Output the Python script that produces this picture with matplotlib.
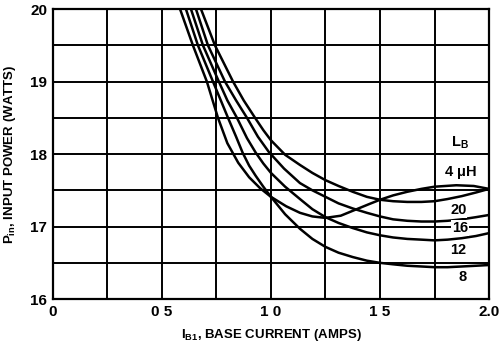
import numpy as np
import matplotlib
matplotlib.use("Agg")
import matplotlib.pyplot as plt

plt.rcParams['font.family'] = ['Liberation Sans', 'DejaVu Sans']
plt.rcParams['font.weight'] = 'bold'
plt.rcParams['mathtext.default'] = 'regular'

# curves (base current in A, input power in W)
x_4uh = [0.583, 0.642, 0.706, 0.757, 0.80, 0.85, 0.90, 0.95, 1.0, 1.07, 1.133, 1.19, 1.25,
         1.32, 1.385, 1.45, 1.5, 1.56, 1.625, 1.69, 1.75, 1.85, 1.93, 2.0]
y_4uh = [20.0, 19.5, 19.0, 18.5, 18.15, 17.88, 17.68, 17.53, 17.41, 17.28, 17.19, 17.14, 17.12,
         17.15, 17.23, 17.31, 17.37, 17.43, 17.48, 17.52, 17.55, 17.57, 17.56, 17.52]

x_20 = [0.679, 0.743, 0.826, 0.875, 0.927, 0.965, 1.0, 1.065, 1.133, 1.19, 1.25, 1.31, 1.375,
        1.44, 1.5, 1.56, 1.625, 1.69, 1.75, 1.81, 1.875, 1.94, 2.0]
y_20 = [20.0, 19.5, 19.0, 18.74, 18.5, 18.33, 18.19, 17.99, 17.85, 17.74, 17.64, 17.56, 17.48,
        17.41, 17.37, 17.35, 17.34, 17.34, 17.35, 17.38, 17.42, 17.47, 17.52]

x_16 = [0.656, 0.711, 0.789, 0.84, 0.89, 0.94, 0.99, 1.06, 1.133, 1.19, 1.25, 1.31, 1.375,
        1.44, 1.5, 1.56, 1.625, 1.69, 1.75, 1.81, 1.875, 1.94, 2.0]
y_16 = [20.0, 19.5, 19.0, 18.74, 18.5, 18.24, 18.03, 17.8, 17.6, 17.5, 17.41, 17.32, 17.25,
        17.19, 17.14, 17.1, 17.08, 17.07, 17.07, 17.08, 17.1, 17.13, 17.16]

x_12 = [0.633, 0.688, 0.761, 0.80, 0.844, 0.89, 0.93, 0.965, 1.0, 1.065, 1.133, 1.19, 1.25,
        1.31, 1.375, 1.44, 1.5, 1.56, 1.625, 1.69, 1.75, 1.81, 1.875, 1.94, 2.0]
y_12 = [20.0, 19.5, 19.0, 18.74, 18.5, 18.22, 18.02, 17.87, 17.74, 17.55, 17.38, 17.24, 17.13,
        17.05, 16.98, 16.92, 16.88, 16.85, 16.83, 16.82, 16.81, 16.82, 16.84, 16.87, 16.91]

x_8 = [0.610, 0.665, 0.734, 0.77, 0.803, 0.84, 0.87, 0.90, 0.93, 0.965, 1.0, 1.065, 1.133,
       1.19, 1.25, 1.31, 1.375, 1.44, 1.5, 1.56, 1.625, 1.69, 1.75, 1.81, 1.875, 1.94, 2.0]
y_8 = [20.0, 19.5, 19.0, 18.74, 18.5, 18.24, 18.02, 17.84, 17.7, 17.55, 17.41, 17.17, 16.97,
       16.83, 16.72, 16.64, 16.58, 16.53, 16.5, 16.48, 16.46, 16.45, 16.44, 16.44, 16.45, 16.46, 16.47]

x_ticks = [0, 0.5, 1.0, 1.5, 2.0]
x_ticklabels = ["0", "0 5", "1 0", "1 5", "2.0"]
y_ticks = [16, 17, 18, 19, 20]

# curve labels
labels = ["$L_B$", "4 $\\mu$H", "20", "16", "12", "8"]
label_x = [1.867, 1.867, 1.86, 1.867, 1.86, 1.88]
label_y = [18.15, 17.74, 17.23, 16.98, 16.68, 16.3]

fig = plt.figure(figsize=(4.99, 3.47), dpi=100)
ax = fig.add_axes([0.106, 0.138, 0.874, 0.836])

ax.set_xlim(0, 2.0)
ax.set_ylim(16, 20)

for v in np.arange(0.25, 2.0, 0.25):
    ax.axvline(v, color='black', lw=1.4, zorder=1)
for v in np.arange(16.5, 20.0, 0.5):
    ax.axhline(v, color='black', lw=1.4, zorder=1)

for xs, ys in [(x_4uh, y_4uh), (x_20, y_20), (x_16, y_16), (x_12, y_12), (x_8, y_8)]:
    ax.plot(xs, ys, color='black', lw=1.8, zorder=2, solid_joinstyle='round')

for t, lx, ly in zip(labels, label_x, label_y):
    ax.text(lx, ly, t, ha='center', va='center', fontsize=10.5, fontweight='bold', zorder=3,
            bbox=dict(facecolor='white', edgecolor='none', pad=0.5))

for s in ax.spines.values():
    s.set_linewidth(1.6)

ax.set_xticks(x_ticks)
ax.set_xticklabels(x_ticklabels)
ax.set_yticks(y_ticks)
ax.tick_params(length=0, labelsize=11, pad=4)
for lab in ax.get_xticklabels() + ax.get_yticklabels():
    lab.set_fontweight('bold')
ax.set_xlabel("$I_{B1}$, BASE CURRENT (AMPS)", fontsize=9.5, fontweight='bold', labelpad=6)
ax.set_ylabel("$P_{in}$, INPUT POWER (WATTS)", fontsize=9.5, fontweight='bold', labelpad=9)

fig.savefig("out.png", dpi=100)
